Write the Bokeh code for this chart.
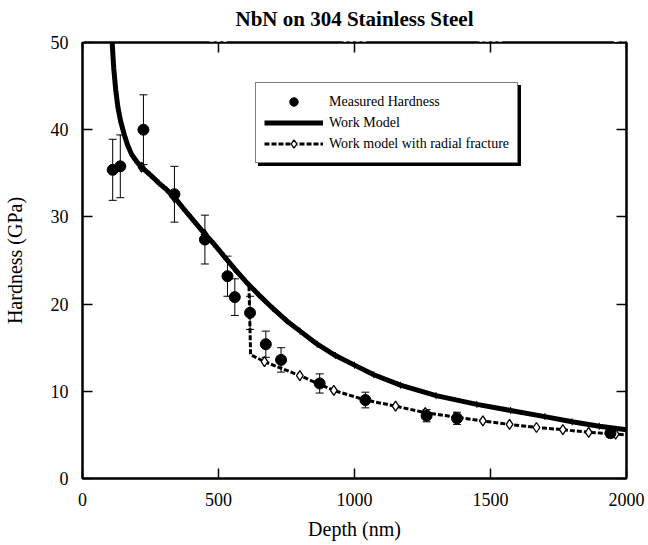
from bokeh.plotting import figure
from bokeh.models import (ColumnDataSource, Whisker, TeeHead, Legend, LegendItem,
                          LinearAxis, Range1d, FixedTicker)
from bokeh.embed import file_html
from bokeh.resources import INLINE
import math

# ---------------- data ----------------
title_text = "NbN on 304 Stainless Steel"

depth_meas = [111, 139, 224, 338, 450, 533, 560, 616, 674, 730, 872, 1040, 1265, 1377, 1941]
hard_meas = [35.4, 35.8, 40.0, 32.6, 27.4, 23.2, 20.8, 19.0, 15.4, 13.6, 10.9, 9.0, 7.2, 6.9, 5.2]
hard_err = [3.5, 3.6, 4.0, 3.2, 2.8, 2.3, 2.1, 1.9, 1.5, 1.4, 1.1, 0.9, 0.7, 0.7, 0.5]

depth_work = [109, 115, 122, 130, 140, 152, 165, 180, 200, 217, 250, 280, 310, 342, 370,
              400, 440, 483, 520, 560, 600, 650, 700, 750, 800, 863, 930, 1000, 1071, 1169,
              1300, 1450, 1574, 1700, 1800, 1900, 2000]
hard_work = [50.0, 47.0, 44.6, 42.6, 41.0, 39.6, 38.3, 37.2, 36.3, 35.7, 34.8, 33.9, 33.1, 32.1, 31.0,
             29.9, 28.4, 26.9, 25.5, 24.0, 22.6, 21.0, 19.5, 18.1, 16.9, 15.4, 14.1, 13.0, 11.9, 10.7,
             9.5, 8.5, 7.8, 7.1, 6.5, 6.0, 5.6]

depth_frac = [217, 280, 342, 400, 440, 483, 540, 581, 612, 618, 669, 799, 924, 1040, 1151,
              1260, 1370, 1472, 1570, 1669, 1766, 1861, 1960, 2000]
hard_frac = [35.7, 33.9, 32.1, 29.9, 28.4, 26.9, 24.8, 23.2, 22.2, 14.2, 13.4, 11.8, 10.1, 9.0, 8.3,
             7.55, 7.05, 6.6, 6.2, 5.85, 5.6, 5.3, 5.1, 5.0]

depth_diam = [217, 338, 449, 669, 799, 924, 1040, 1151, 1260, 1370, 1472, 1570, 1669, 1766, 1861, 1960]
hard_diam = [35.7, 32.2, 28.0, 13.4, 11.8, 10.1, 9.0, 8.3, 7.55, 7.05, 6.6, 6.2, 5.85, 5.6, 5.3, 5.1]

x_ticks = [0, 500, 1000, 1500, 2000]
y_ticks = [0, 10, 20, 30, 40, 50]

FONT = "Liberation Serif"

# ---------------- figure ----------------
p = figure(width=648, height=545, x_range=Range1d(0, 2000), y_range=Range1d(0, 50),
           output_backend="svg", toolbar_location=None,
           min_border_left=82, min_border_right=22, min_border_top=42, min_border_bottom=67,
           title=title_text)
p.title.align = "center"
p.title.text_font = FONT
p.title.text_font_size = "21px"
p.title.text_font_style = "bold"
p.title.text_color = "black"
p.title.standoff = 0

p.grid.visible = False
p.outline_line_color = "black"
p.outline_line_width = 2
p.background_fill_color = "white"
p.border_fill_color = "white"

bottom_ax = p.below[0]
left_ax = p.left[0]

bottom_ax.ticker = FixedTicker(ticks=x_ticks)
bottom_ax.axis_label = "Depth (nm)"
bottom_ax.major_label_standoff = 14
bottom_ax.axis_label_standoff = 9
left_ax.ticker = FixedTicker(ticks=y_ticks)
left_ax.axis_label = "Hardness (GPa)"
left_ax.major_label_standoff = 14
left_ax.axis_label_standoff = 22

top_ax = LinearAxis(ticker=FixedTicker(ticks=x_ticks))
right_ax = LinearAxis(ticker=FixedTicker(ticks=y_ticks))
p.add_layout(top_ax, "above")
p.add_layout(right_ax, "right")

for ax in [bottom_ax, left_ax, top_ax, right_ax]:
    ax.axis_line_color = "black"
    ax.axis_line_width = 2
    ax.major_tick_in = 10
    ax.major_tick_out = 0
    ax.major_tick_line_width = 1.5
    ax.major_tick_line_color = "black"
    ax.minor_tick_line_color = None
    ax.major_label_text_font = FONT
    ax.major_label_text_color = "black"
    ax.major_label_text_font_size = "18px"
    ax.axis_label_text_font = FONT
    ax.axis_label_text_font_style = "normal"
    ax.axis_label_text_color = "black"
    ax.axis_label_text_font_size = "20px"

# mirror axes: ticks only; their labels are white on white and merely reserve space
for ax in [top_ax, right_ax]:
    ax.major_label_text_color = "white"
    ax.major_label_text_font_size = "13px"
    ax.major_label_standoff = 1
right_ax.major_label_text_font_size = "11px"

# ---------------- glyphs ----------------
work_src = ColumnDataSource(dict(x=depth_work, y=hard_work))
frac_src = ColumnDataSource(dict(x=depth_frac, y=hard_frac))
diam_src = ColumnDataSource(dict(x=depth_diam, y=hard_diam))
meas_src = ColumnDataSource(dict(
    x=depth_meas, y=hard_meas,
    upper=[h + e for h, e in zip(hard_meas, hard_err)],
    lower=[h - e for h, e in zip(hard_meas, hard_err)]))

frac_line = p.line("x", "y", source=frac_src, line_color="black", line_width=3, line_dash="5 2")
frac_mark = p.scatter("x", "y", source=diam_src, marker="diamond", size=10,
                      fill_color="white", line_color="black", line_width=1.3)

work_line = p.line("x", "y", source=work_src, line_color="black", line_width=5,
                   line_join="round")
work_mark = p.scatter("x", "y", source=work_src, marker="dash", angle=math.pi / 2, size=7,
                      line_color="black", line_width=1)

whisk = Whisker(source=meas_src, base="x", upper="upper", lower="lower",
                line_color="black", line_width=1,
                upper_head=TeeHead(size=8, line_color="black", line_width=1),
                lower_head=TeeHead(size=8, line_color="black", line_width=1))
p.add_layout(whisk)
meas = p.scatter("x", "y", source=meas_src, marker="circle", size=11,
                 fill_color="black", line_color="black")

items = [
    LegendItem(label="Measured Hardness", renderers=[meas]),
    LegendItem(label="Work Model", renderers=[work_line, work_mark]),
    LegendItem(label="Work model with radial fracture", renderers=[frac_line, frac_mark]),
]

PAD, GW, STAND, LW, RH = 8, 59, 6, 180, 21

def style_legend(lg):
    lg.label_text_font = FONT
    lg.label_text_font_size = "14px"
    lg.label_text_color = "black"
    lg.padding = PAD
    lg.spacing = 0
    lg.margin = 0
    lg.glyph_width = GW
    lg.label_standoff = STAND
    lg.label_width = LW
    lg.border_line_color = "black"
    lg.border_line_width = 1.5
    lg.background_fill_alpha = 1.0
    return lg

# drop shadow: one black box the same size as the legend, offset by 3 px
shadow = style_legend(Legend(items=[LegendItem(label=" ", renderers=[meas])],
                             location=(176, 312), orientation="vertical"))
shadow.label_height = 3 * RH
shadow.glyph_height = 3 * RH
shadow.background_fill_color = "black"

front = style_legend(Legend(items=items, location=(173, 315), orientation="vertical"))
front.label_height = RH
front.glyph_height = RH
front.background_fill_color = "white"

p.add_layout(shadow)
p.add_layout(front)

open("out.html", "w").write(file_html(p, INLINE))
